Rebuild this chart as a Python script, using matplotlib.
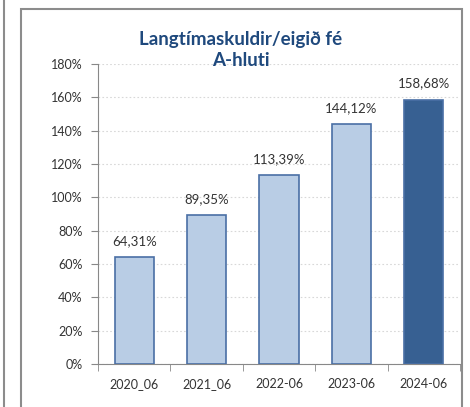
import matplotlib.pyplot as plt
import numpy as np
from matplotlib.patches import Rectangle
from matplotlib.lines import Line2D

categories = ['2020_06', '2021_06', '2022-06', '2023-06', '2024-06']
values = [64.31, 89.35, 113.39, 144.12, 158.68]
labels = ['64,31%', '89,35%', '113,39%', '144,12%', '158,68%']
colors = ['#B9CDE5', '#B9CDE5', '#B9CDE5', '#B9CDE5', '#376092']

W, H = 470, 407
fig = plt.figure(figsize=[W / 100, H / 100], dpi=100)
plt.rcParams['font.family'] = ['Lato', 'DejaVu Sans']

# axes in pixel coordinates
x0, x1, ytop, ybot = 98, 460, 64, 364
ax = fig.add_axes([x0 / W, 1 - ybot / H, (x1 - x0) / W, (ybot - ytop) / H])

x = np.arange(len(categories))
ax.bar(x, values, width=0.54, color=colors, edgecolor='#4A6FA5', linewidth=1.2, zorder=3)
for xi, v, lab in zip(x, values, labels):
    ax.text(xi, v + 6, lab, ha='center', va='bottom', fontsize=9.5, color='#333333')

ax.set_xlim(-0.5, len(categories) - 0.5)
ax.set_ylim(0, 180)
ax.set_yticks(np.arange(0, 181, 20))
ax.set_yticklabels([f'{t}%' for t in range(0, 181, 20)], fontsize=9, color='#333333')
ax.set_xticks(x)
ax.set_xticklabels(categories, fontsize=9, color='#333333')
ax.tick_params(axis='x', length=0, pad=10)
ax.set_xticks(np.arange(-0.5, len(categories)), minor=True)
ax.tick_params(axis='x', which='minor', length=5, color='#888888')
ax.tick_params(axis='y', length=5, color='#888888', pad=6)
ax.grid(axis='y', linestyle=(0, (1.5, 2)), color='#D8D8D8', linewidth=0.8, zorder=0)
for s in ['top', 'right']:
    ax.spines[s].set_visible(False)
for s in ['left', 'bottom']:
    ax.spines[s].set_color('#888888')

fig.text(241 / W, 1 - 39 / H, 'Langtímaskuldir/eigið fé', ha='center', va='center',
         fontsize=13.5, fontweight='bold', color='#1F497D')
fig.text(241 / W, 1 - 61 / H, 'A-hluti', ha='center', va='center',
         fontsize=13.5, fontweight='bold', color='#1F497D')

# chart frame and the edge of the neighbouring chart
fig.patches.append(Rectangle((21 / W, -0.05), (462 - 21) / W, 1.05 - 9 / H,
                             transform=fig.transFigure, fill=False,
                             edgecolor='#8C8C8C', linewidth=1.5))
fig.lines.append(Line2D([3.5 / W, 3.5 / W], [0, 1], transform=fig.transFigure,
                        color='#8C8C8C', linewidth=1.5))

fig.savefig('out.png', dpi=100)
